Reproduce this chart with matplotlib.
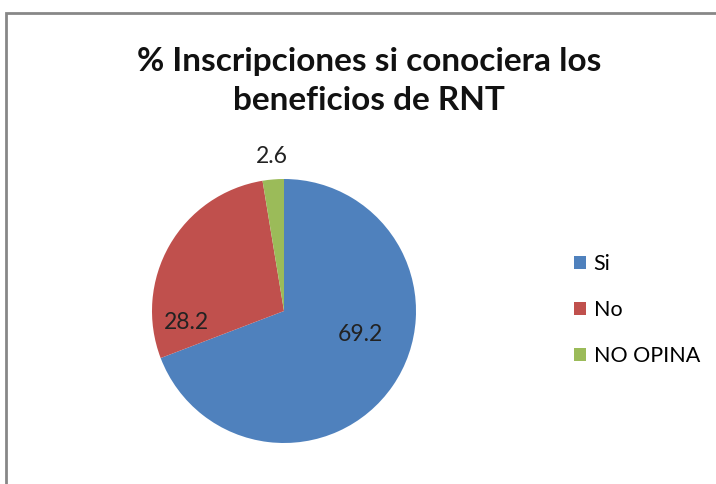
import matplotlib.pyplot as plt
import matplotlib.patches as mpatches

# chart values
categories = ['Si', 'No', 'NO OPINA']
values = [69.2, 28.2, 2.6]
colors = ['#4F81BD', '#C0504D', '#9BBB59']
title = '% Inscripciones si conociera los\nbeneficios de RNT'

plt.rcParams['font.family'] = ['Lato', 'DejaVu Sans']

fig = plt.figure(figsize=(7.16, 4.84), dpi=100)

# chart border (gray frame, cut on the right and bottom)
frame = mpatches.Rectangle((6 / 716, -0.1), 1.2, (484 - 13) / 484 + 0.1,
                           transform=fig.transFigure, fill=False,
                           edgecolor='#878787', linewidth=2)
fig.patches.append(frame)

# pie axes: centre (284, 311) px, radius 132 px
cx, cy, r = 284, 311, 132
ax = fig.add_axes([(cx - r) / 716, (484 - cy - r) / 484, 2 * r / 716, 2 * r / 484])
wedges, _ = ax.pie(values, colors=colors, startangle=90, counterclock=False,
                   radius=1.0, wedgeprops=dict(linewidth=0))
ax.set_xlim(-1, 1)
ax.set_ylim(-1, 1)
ax.set_aspect('equal')
ax.axis('off')

# data labels (placed like Excel's best fit)
label_pos = [(0.576, -0.18), (-0.74, -0.085), (-0.09, 1.17)]
for v, (x, y) in zip(values, label_pos):
    ax.text(x, y, f'{v:.1f}', ha='center', va='center', fontsize=16.5,
            color='#222222', clip_on=False)

fig.text(369 / 716, 1 - 81 / 484, title, ha='center', va='center',
         fontsize=24, fontweight='bold', linespacing=1.38, color='#111111')

# legend
handles = [mpatches.Rectangle((0, 0), 1, 1, facecolor=c, edgecolor='none') for c in colors]
fig.legend(handles, categories, loc='center left',
           bbox_to_anchor=(555 / 716, 1 - 310 / 484), frameon=False,
           fontsize=15.5, handlelength=0.55, handleheight=0.55, handletextpad=0.35,
           labelspacing=1.2)

fig.savefig('out.png', dpi=100)
